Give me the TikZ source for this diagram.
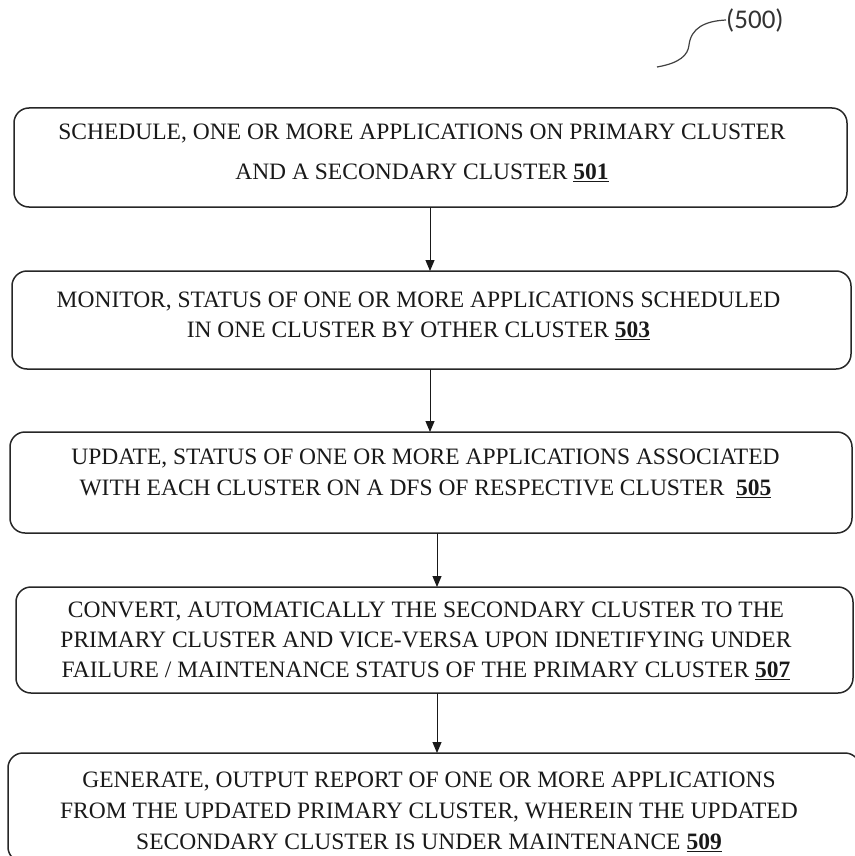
\documentclass[tikz,border=0pt]{standalone}
\usepackage{fontspec}
\setmainfont{Liberation Serif}
\newfontfamily\labelfont{Carlito}
\usetikzlibrary{arrows.meta}
\tikzset{
  stepbox/.style={draw=black!85, line width=1.5pt, rounded corners=15pt, inner sep=0pt, outer sep=0pt},
  steptext/.style={align=center, inner sep=0pt, font=\fontsize{23.5}{30}\selectfont, text=black!90},
  flow/.style={line width=1pt, draw=black!90, -{Triangle[width=9pt,length=11pt]}}
}
\newcommand{\refnum}[1]{\underline{\textbf{#1}}}
\begin{document}
\begin{tikzpicture}[x=1pt, y=-1pt]
  \useasboundingbox (0,0) rectangle (854,856);

  % figure reference
  \node[font=\labelfont\fontsize{27}{30}\selectfont, text=black!80, anchor=west, inner sep=0pt] (fig) at (726,20) {(500)};
  \draw[line width=1.2pt, black!75] (657,67) .. controls (680,63) and (688,55) .. (689,45)
        .. controls (691,28) and (705,21) .. (fig.west);

  % step boxes
  \node[stepbox, minimum width=833pt, minimum height=99pt] (b1) at (430.5,157.5) {};
  \node[stepbox, minimum width=839pt, minimum height=98pt] (b2) at (431.5,320) {};
  \node[stepbox, minimum width=842pt, minimum height=101pt] (b3) at (431,482.5) {};
  \node[stepbox, minimum width=837pt, minimum height=106pt] (b4) at (434.5,640) {};
  \node[stepbox, minimum width=852pt, minimum height=109pt] (b5) at (434,807.5) {};

  % step texts
  \node[steptext, font=\fontsize{23.5}{40}\selectfont] (t1) at (422,153)
    {SCHEDULE, ONE OR MORE APPLICATIONS ON PRIMARY CLUSTER\\AND A SECONDARY CLUSTER \refnum{501}};
  \node[steptext] (t2) at (418.5,316)
    {MONITOR, STATUS OF ONE OR MORE APPLICATIONS SCHEDULED\\IN ONE CLUSTER BY OTHER CLUSTER \refnum{503}};
  \node[steptext, font=\fontsize{23.5}{31}\selectfont] (t3) at (425.5,473.5)
    {UPDATE, STATUS OF ONE OR MORE APPLICATIONS ASSOCIATED\\WITH EACH CLUSTER ON A DFS OF RESPECTIVE CLUSTER \ \refnum{505}};
  \node[steptext] (t4) at (426,641)
    {CONVERT, AUTOMATICALLY THE SECONDARY CLUSTER TO THE\\PRIMARY CLUSTER AND VICE-VERSA UPON IDNETIFYING UNDER\\FAILURE / MAINTENANCE STATUS OF THE PRIMARY CLUSTER \refnum{507}};
  \node[steptext, font=\fontsize{23.5}{31}\selectfont] (t5) at (429,812)
    {GENERATE, OUTPUT REPORT OF ONE OR MORE APPLICATIONS\\FROM THE UPDATED PRIMARY CLUSTER, WHEREIN THE UPDATED\\SECONDARY CLUSTER IS UNDER MAINTENANCE \refnum{509}};

  % connectors
  \draw[flow] (b1.south -| 430,0) -- (b2.north -| 430,0);
  \draw[flow] (b2.south -| 430,0) -- (b3.north -| 430,0);
  \draw[flow] (b3.south -| 437,0) -- (b4.north -| 437,0);
  \draw[flow] (b4.south -| 437,0) -- (b5.north -| 437,0);
\end{tikzpicture}
\end{document}
